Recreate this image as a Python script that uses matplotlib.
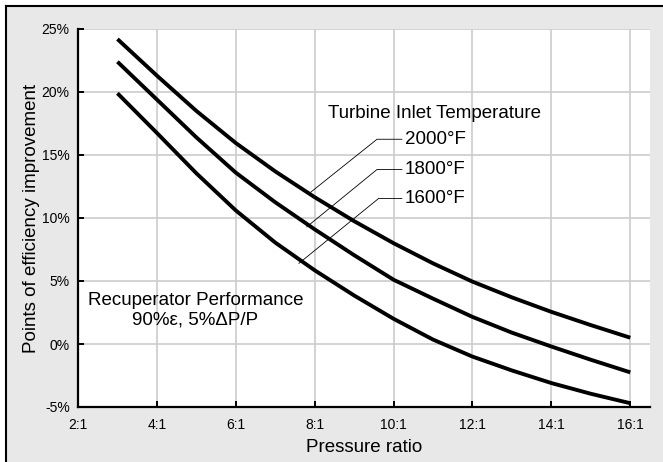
import matplotlib
matplotlib.use('Agg')
import matplotlib.pyplot as plt
from matplotlib.patches import Rectangle
from matplotlib.lines import Line2D

plt.rcParams['font.family'] = ['Liberation Sans', 'DejaVu Sans']

# Pressure ratio (x:1) and efficiency improvement (%)
pressure = [3, 4, 5, 6, 7, 8, 9, 10, 11, 12, 13, 14, 15, 16]
tit_2000 = [24.2, 21.3, 18.5, 15.95, 13.7, 11.65, 9.75, 8.0, 6.4, 4.95, 3.7, 2.55, 1.5, 0.5]
tit_1800 = [22.4, 19.4, 16.4, 13.6, 11.25, 9.1, 7.05, 5.1, 3.6, 2.15, 0.9, -0.2, -1.25, -2.25]
tit_1600 = [19.9, 16.75, 13.55, 10.6, 8.05, 5.85, 3.85, 2.0, 0.35, -1.0, -2.1, -3.1, -3.95, -4.7]

x_ticks = [2, 4, 6, 8, 10, 12, 14, 16]
x_labels = ['2:1', '4:1', '6:1', '8:1', '10:1', '12:1', '14:1', '16:1']
y_ticks = [-5, 0, 5, 10, 15, 20, 25]
y_labels = ['-5%', '0%', '5%', '10%', '15%', '20%', '25%']

# label callouts: (label, point on curve, elbow)
callouts = [
    ('2000°F', (7.88, 12.0), (9.58, 16.25)),
    ('1800°F', (7.80, 9.3), (9.58, 13.85)),
    ('1600°F', (7.60, 6.4), (9.62, 11.55)),
]

fig = plt.figure(figsize=(6.63, 4.62), dpi=100)
fig.patch.set_facecolor('white')

# grey panel with black top/left frame
W, H = 663, 462
fig.add_artist(Rectangle((7 / W, 0), 1 - 7 / W, 1 - 7 / H, transform=fig.transFigure,
                         facecolor='#e8e8e8', edgecolor='none', zorder=0))
fig.add_artist(Line2D([6 / W, 1], [1 - 6 / H, 1 - 6 / H], transform=fig.transFigure,
                      color='black', lw=1.5))
fig.add_artist(Line2D([6 / W, 6 / W], [0, 1 - 6 / H], transform=fig.transFigure,
                      color='black', lw=1.5))

ax = fig.add_axes([78 / W, 1 - 407 / H, (650 - 78) / W, (407 - 29) / H])
ax.set_facecolor('white')

for series in (tit_2000, tit_1800, tit_1600):
    ax.plot(pressure, series, color='black', lw=2.8, solid_capstyle='butt',
            solid_joinstyle='round', zorder=3)

ax.set_xlim(2, 16.5)
ax.set_ylim(-5, 25)
ax.set_xticks(x_ticks)
ax.set_xticklabels(x_labels)
ax.set_yticks(y_ticks)
ax.set_yticklabels(y_labels)
ax.grid(True, color='#cccccc', lw=1.2)
ax.set_axisbelow(True)

for s in ['top', 'right']:
    ax.spines[s].set_visible(False)
for s in ['left', 'bottom']:
    ax.spines[s].set_linewidth(1.6)
ax.tick_params(direction='in', length=4, width=1.4, labelsize=10, color='black')
ax.tick_params(axis='x', pad=8)
ax.tick_params(axis='y', pad=6)

ax.set_xlabel('Pressure ratio', fontsize=13.5, labelpad=5)
ax.set_ylabel('Points of efficiency improvement', fontsize=13.5, labelpad=1)

ax.text(8.33, 18.33, 'Turbine Inlet Temperature', fontsize=13.5, va='center', ha='left')
for label, start, elbow in callouts:
    ax.plot([start[0], elbow[0], 10.21], [start[1], elbow[1], elbow[1]],
            color='black', lw=0.6, zorder=2)
    ax.text(10.29, elbow[1], label, fontsize=13.5, va='center', ha='left')

ax.text(4.98, 3.49, 'Recuperator Performance', fontsize=13.5, va='center', ha='center')
ax.text(4.98, 1.9, '90%ε, 5%ΔP/P', fontsize=13.5, va='center', ha='center')

fig.savefig('out.png', dpi=100)
